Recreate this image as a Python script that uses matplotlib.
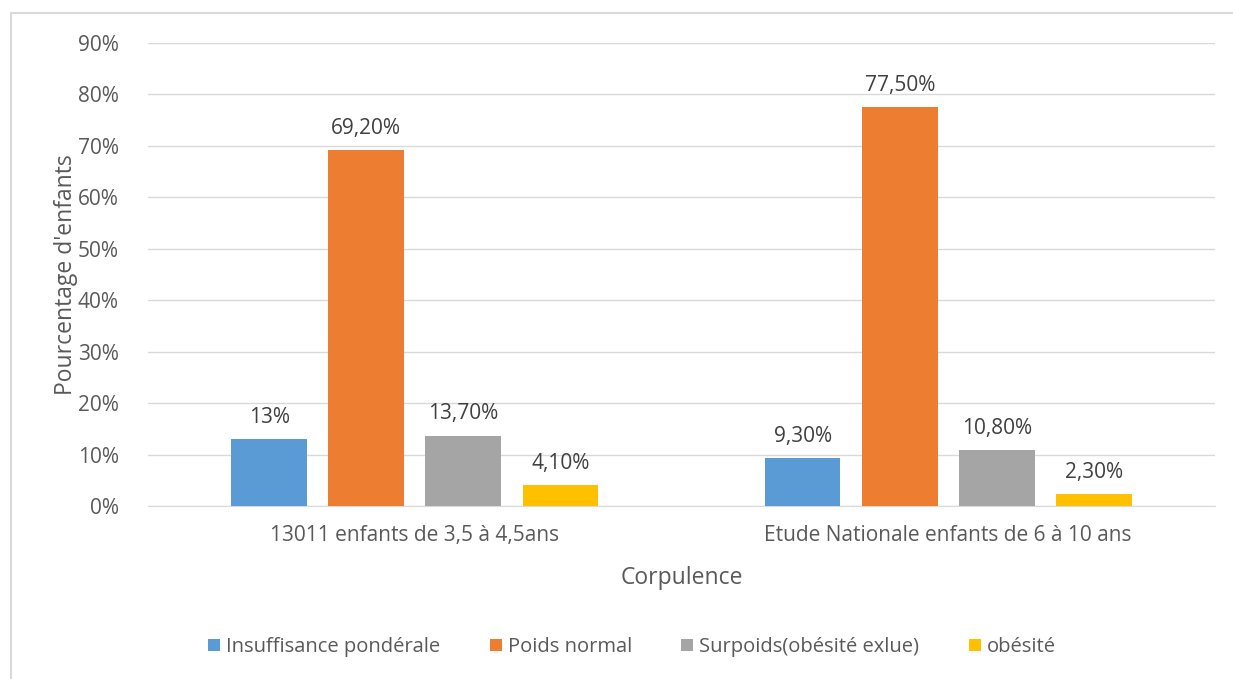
import numpy as np
import matplotlib.pyplot as plt
from matplotlib.patches import Rectangle

groups = ['13011 enfants de 3,5 à 4,5ans', 'Etude Nationale enfants de 6 à 10 ans']
series = ['Insuffisance pondérale', 'Poids normal', 'Surpoids(obésité exlue)', 'obésité']
insuffisance = [13.0, 9.3]
normal = [69.2, 77.5]
surpoids = [13.7, 10.8]
obesite = [4.1, 2.3]
labels = [['13%', '9,30%'], ['69,20%', '77,50%'], ['13,70%', '10,80%'], ['4,10%', '2,30%']]
colors = ['#5B9BD5', '#ED7D31', '#A5A5A5', '#FFC000']

plt.rcParams['font.family'] = ['Open Sans', 'DejaVu Sans']
txt = '#595959'

fig = plt.figure(figsize=(12.33, 6.79), dpi=100)
fig.patches.append(Rectangle((11/1233, -0.05), 1.1, 1 - 13/679 + 0.05, transform=fig.transFigure,
                             fill=False, edgecolor='#D9D9D9', linewidth=1.5))
ax = fig.add_axes([148/1233, 1 - 506/679, (1215 - 148)/1233, (506 - 43)/679])

x = np.arange(len(groups))
w = 0.142
step = 0.182
values = [insuffisance, normal, surpoids, obesite]
for i, (vals, c, name) in enumerate(zip(values, colors, series)):
	pos = x + (i - 1.5) * step
	ax.bar(pos, vals, width=w, color=c, label=name, zorder=3)
	for p, v, l in zip(pos, vals, labels[i]):
		ax.text(p, v + 2.2, l, ha='center', va='bottom', fontsize=15, color='#404040')

ax.set_xlim(-0.5, 1.5)
ax.set_ylim(0, 90)
ax.set_yticks(np.arange(0, 91, 10))
ax.set_yticklabels([f'{t}%' for t in range(0, 91, 10)])
ax.set_xticks(x)
ax.set_xticklabels(groups)
ax.tick_params(axis='both', length=0, labelsize=15, labelcolor=txt)
ax.tick_params(axis='y', pad=21)
ax.tick_params(axis='x', pad=14)
ax.grid(axis='y', color='#D9D9D9', linewidth=1, zorder=0)
for s in ['top', 'right', 'left']:
	ax.spines[s].set_visible(False)
ax.spines['bottom'].set_color('#D9D9D9')

ax.set_xlabel('Corpulence', fontsize=16.5, color=txt, labelpad=14)
ax.set_ylabel("Pourcentage d'enfants", fontsize=16.5, color=txt, labelpad=0)

fig.legend(loc='center', bbox_to_anchor=(632/1233, 1 - 647/679), ncol=4, frameon=False,
           fontsize=14.5, handlelength=0.6, handleheight=0.6, handletextpad=0.3, columnspacing=2.45,
           labelcolor=txt)

fig.savefig('out.png', dpi=100)
